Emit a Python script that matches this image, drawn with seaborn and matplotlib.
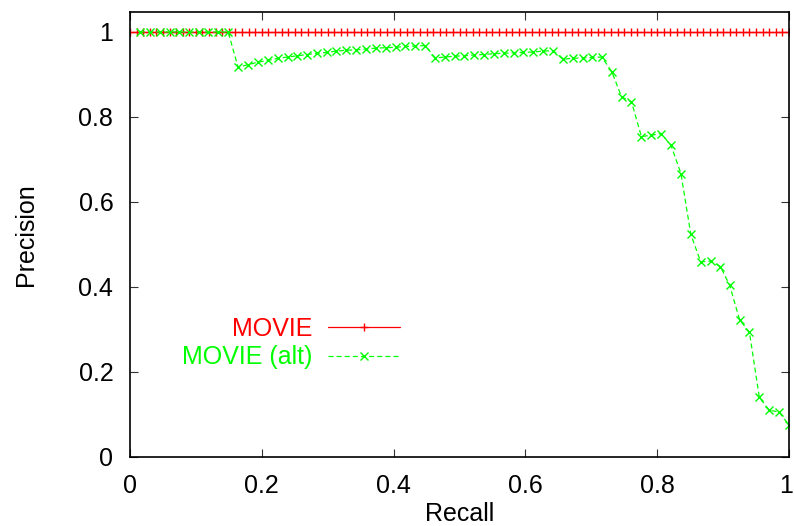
import numpy as np
import pandas as pd
import matplotlib
matplotlib.use("Agg")
import matplotlib.pyplot as plt
import matplotlib.transforms as mtransforms
import seaborn as sns

# Precision/recall curves
movie_recall = np.round(np.linspace(0.0, 1.0, 101), 2)
movie_precision = [1.0] * len(movie_recall)

alt_recall = [
    0.015, 0.030, 0.045, 0.060, 0.075, 0.090, 0.104, 0.119, 0.134, 0.149,
    0.164, 0.179, 0.194, 0.209, 0.224, 0.239, 0.254, 0.269, 0.284, 0.299,
    0.313, 0.328, 0.343, 0.358, 0.373, 0.388, 0.403, 0.418, 0.433, 0.448,
    0.463, 0.478, 0.493, 0.507, 0.522, 0.537, 0.552, 0.567, 0.582, 0.597,
    0.612, 0.627, 0.642, 0.657, 0.672, 0.687, 0.701, 0.716, 0.731, 0.746,
    0.761, 0.776, 0.791, 0.806, 0.821, 0.836, 0.851, 0.866, 0.881, 0.896,
    0.910, 0.925, 0.940, 0.955, 0.970, 0.985, 1.000,
]
alt_precision = [
    1.0, 1.0, 1.0, 1.0, 1.0, 1.0, 1.0, 1.0, 1.0, 1.0,
    0.917, 0.923, 0.929, 0.933, 0.938, 0.941, 0.944, 0.947, 0.950, 0.952,
    0.955, 0.957, 0.958, 0.960, 0.962, 0.963, 0.964, 0.966, 0.967, 0.968,
    0.939, 0.941, 0.943, 0.944, 0.946, 0.947, 0.949, 0.950, 0.951, 0.952,
    0.953, 0.955, 0.956, 0.936, 0.938, 0.939, 0.940, 0.941, 0.907, 0.847,
    0.836, 0.754, 0.757, 0.761, 0.733, 0.667, 0.524, 0.459, 0.461, 0.448,
    0.404, 0.323, 0.293, 0.140, 0.110, 0.106, 0.075,
]

series_labels = ["MOVIE", "MOVIE (alt)"]
series_colors = ["#ff0000", "#00ff00"]
x_ticks = [0, 0.2, 0.4, 0.6, 0.8, 1]
y_ticks = [0, 0.2, 0.4, 0.6, 0.8, 1]

sns.set_style("ticks")
plt.rcParams["font.family"] = ["Liberation Sans", "DejaVu Sans"]
plt.rcParams["text.color"] = "black"
plt.rcParams["axes.labelcolor"] = "black"
plt.rcParams["xtick.color"] = "black"
plt.rcParams["ytick.color"] = "black"

fig = plt.figure(figsize=(7.94, 5.26), dpi=100)
ax = fig.add_axes([130 / 794, 1 - 457 / 526, 659 / 794, 445 / 526])

df_main = pd.DataFrame({"recall": movie_recall, "precision": movie_precision})
df_alt = pd.DataFrame({"recall": alt_recall, "precision": alt_precision})

sns.lineplot(data=df_main, x="recall", y="precision", ax=ax,
             color=series_colors[0], marker="+", markersize=6,
             markeredgewidth=1.0, markeredgecolor=series_colors[0],
             linewidth=0.9, estimator=None, sort=False,
             label=series_labels[0])
sns.lineplot(data=df_alt, x="recall", y="precision", ax=ax,
             color=series_colors[1], marker="x", markersize=6,
             markeredgewidth=1.0, markeredgecolor=series_colors[1],
             linewidth=0.9, estimator=None, sort=False,
             label=series_labels[1])
ax.lines[1].set_dashes((4, 2.5))

ax.set_xlim(0, 1)
ax.set_ylim(0, 1.047)
ax.set_xticks(x_ticks)
ax.set_yticks(y_ticks)
ax.set_xticklabels([f"{t:g}" for t in x_ticks])
ax.set_yticklabels([f"{t:g}" for t in y_ticks])
ax.tick_params(direction="in", length=6, width=0.8, labelsize=18,
               top=True, right=True, color="#333333", labelcolor="black")
ax.tick_params(axis="x", pad=12)
ax.tick_params(axis="y", pad=12)
for s in ax.spines.values():
    s.set_visible(True)
    s.set_linewidth(1.2)
    s.set_color("black")

# keep the last x tick label inside the figure edge
last = ax.get_xticklabels()[-1]
last.set_transform(last.get_transform() +
                   mtransforms.ScaledTranslation(-3 / 100, 0, fig.dpi_scale_trans))

ax.set_xlabel("Recall", fontsize=18, labelpad=3)
ax.set_ylabel("Precision", fontsize=18, labelpad=29)

leg = ax.legend(loc="center right", bbox_to_anchor=(0.41, 0.256),
                frameon=False, markerfirst=False, fontsize=18,
                handlelength=2.9, handletextpad=0.6, labelspacing=0.18,
                borderpad=0, borderaxespad=0, labelcolor="linecolor")
for t in leg.get_texts():
    t.set_ha("right")

fig.savefig("out.png", dpi=100)
